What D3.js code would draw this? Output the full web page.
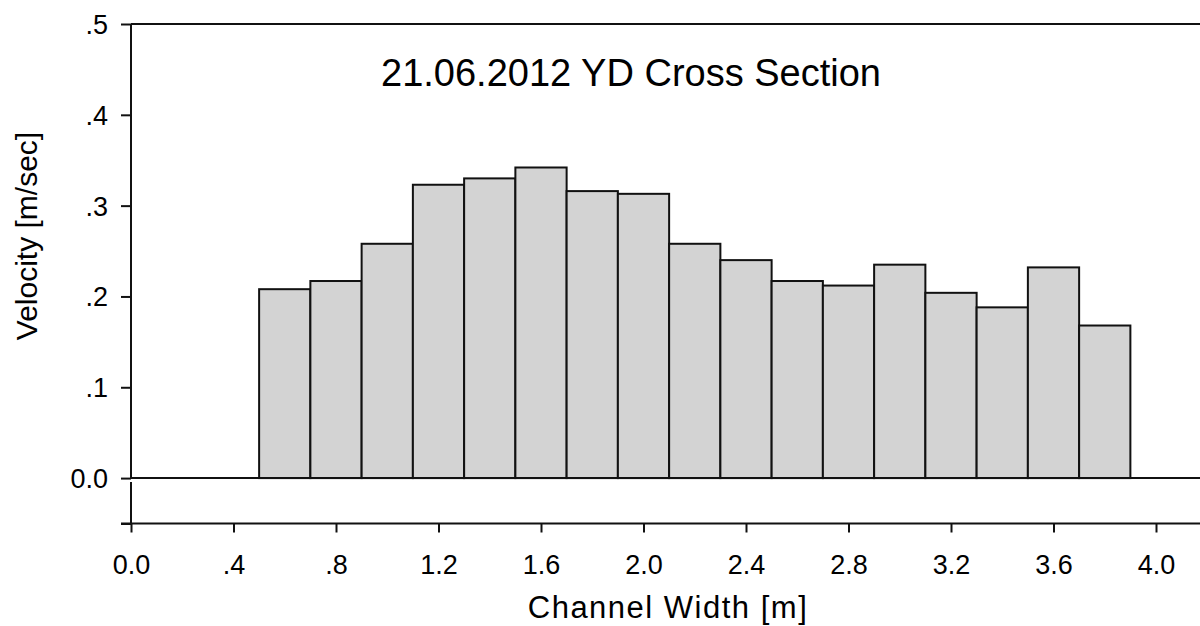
<!DOCTYPE html>
<html>
<head>
<meta charset="utf-8">
<script src="https://cdn.jsdelivr.net/npm/d3@7"></script>
<style>
  html, body { margin: 0; padding: 0; background: #fff; }
  svg { display: block; }
  text { font-family: "Liberation Sans", Arial, sans-serif; fill: #000; }
</style>
</head>
<body>
<svg id="chart" width="1200" height="626"></svg>
<script>
// Velocity measured across the channel, one bin every 0.2 m
const binStart = [0.5, 0.7, 0.9, 1.1, 1.3, 1.5, 1.7, 1.9, 2.1, 2.3, 2.5, 2.7, 2.9, 3.1, 3.3, 3.5, 3.7];
const binEnd   = [0.7, 0.9, 1.1, 1.3, 1.5, 1.7, 1.9, 2.1, 2.3, 2.5, 2.7, 2.9, 3.1, 3.3, 3.5, 3.7, 3.9];
const velocity = [0.208, 0.217, 0.258, 0.323, 0.330, 0.342, 0.316, 0.313, 0.258, 0.240,
                  0.217, 0.212, 0.235, 0.204, 0.188, 0.232, 0.168];

const xTicks = [0.0, 0.4, 0.8, 1.2, 1.6, 2.0, 2.4, 2.8, 3.2, 3.6, 4.0];
const xTickLabels = ["0.0", ".4", ".8", "1.2", "1.6", "2.0", "2.4", "2.8", "3.2", "3.6", "4.0"];
const yTicks = [-0.05, 0.0, 0.1, 0.2, 0.3, 0.4, 0.5];
const yTickLabels = ["", "0.0", ".1", ".2", ".3", ".4", ".5"];

const titleText = "21.06.2012 YD Cross Section";
const xTitle = "Channel Width [m]";
const yTitle = "Velocity [m/sec]";

const svg = d3.select("#chart");
const W = 1200;

const x = d3.scaleLinear().domain([0, 4.4]).range([131, 131 + 4.4 * 256.25]);
const y = d3.scaleLinear().domain([-0.05, 0.5]).range([523.5, 24]);

const axisColor = "#111";

// bars
svg.append("g")
  .selectAll("rect")
  .data(velocity)
  .join("rect")
  .attr("x", (d, i) => x(binStart[i]))
  .attr("width", (d, i) => x(binEnd[i]) - x(binStart[i]))
  .attr("y", d => y(d))
  .attr("height", d => y(0) - y(d))
  .attr("fill", "#d3d3d3")
  .attr("stroke", "#111")
  .attr("stroke-width", 2);

// top frame line and zero baseline
svg.append("line")
  .attr("x1", x(0)).attr("x2", W)
  .attr("y1", y(0.5)).attr("y2", y(0.5))
  .attr("stroke", axisColor).attr("stroke-width", 2);
svg.append("line")
  .attr("x1", x(0)).attr("x2", W)
  .attr("y1", y(0)).attr("y2", y(0))
  .attr("stroke", axisColor).attr("stroke-width", 2);

// y axis (broken just below zero)
const yAxis = d3.axisLeft(y)
  .tickValues(yTicks)
  .tickSize(10)
  .tickPadding(13)
  .tickFormat((d, i) => yTickLabels[i]);
const gy = svg.append("g")
  .attr("transform", `translate(${x(0)},0)`)
  .call(yAxis);
gy.select(".domain").remove();
gy.selectAll(".tick line").attr("stroke", axisColor).attr("stroke-width", 2);
gy.selectAll(".tick text")
  .style("font-size", "27px")
  .attr("dy", "0.35em")
  .attr("fill", "#000");
svg.append("line")
  .attr("x1", x(0)).attr("x2", x(0))
  .attr("y1", y(0.5)).attr("y2", y(0))
  .attr("stroke", axisColor).attr("stroke-width", 2);
svg.append("line")
  .attr("x1", x(0)).attr("x2", x(0))
  .attr("y1", y(0) + 4).attr("y2", y(-0.05))
  .attr("stroke", axisColor).attr("stroke-width", 2);

// x axis at the bottom
const xAxis = d3.axisBottom(x)
  .tickValues(xTicks)
  .tickSize(9)
  .tickPadding(22)
  .tickFormat((d, i) => xTickLabels[i]);
const gx = svg.append("g")
  .attr("transform", `translate(0,${y(-0.05)})`)
  .call(xAxis);
gx.select(".domain").remove();
gx.selectAll(".tick line").attr("stroke", axisColor).attr("stroke-width", 2);
gx.selectAll(".tick text")
  .style("font-size", "27px")
  .attr("fill", "#000");
svg.append("line")
  .attr("x1", x(0) - 10).attr("x2", W)
  .attr("y1", y(-0.05)).attr("y2", y(-0.05))
  .attr("stroke", axisColor).attr("stroke-width", 2);

// titles
svg.append("text")
  .attr("x", 631).attr("y", 86)
  .attr("text-anchor", "middle")
  .style("font-size", "38px")
  .text(titleText);

svg.append("text")
  .attr("x", 668).attr("y", 618)
  .attr("text-anchor", "middle")
  .style("font-size", "31px")
  .style("letter-spacing", "1.5px")
  .text(xTitle);

svg.append("text")
  .attr("transform", "translate(37,236) rotate(-90)")
  .attr("text-anchor", "middle")
  .style("font-size", "30px")
  .text(yTitle);
</script>
</body>
</html>
